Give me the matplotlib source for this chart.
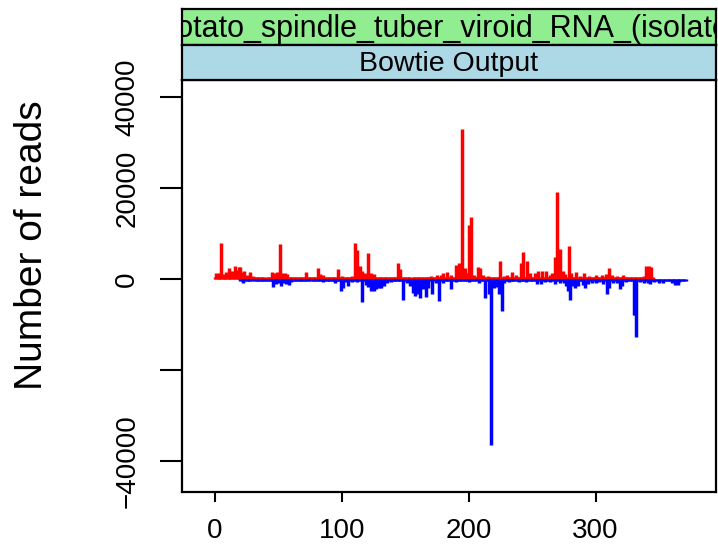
import numpy as np
import matplotlib
matplotlib.use("Agg")
import matplotlib.pyplot as plt

plt.rcParams["font.family"] = ["Liberation Sans", "DejaVu Sans"]

# read counts per genome position (sense = positive, antisense = negative)
sense_pos = [1, 3, 5, 7, 9, 11, 12, 14, 16, 17, 19, 20, 21, 23, 25, 28, 30, 32, 35, 40,
             45, 47, 49, 51, 53, 55, 57, 60, 65, 72, 75, 81, 83, 85, 90, 97, 100, 103, 108,
             110, 112, 114, 116, 118, 121, 123, 125, 130, 135, 140, 144, 146, 150, 155, 160,
             165, 170, 175, 178, 180, 183, 186, 190, 192, 194, 195, 197, 199, 200, 202, 204,
             207, 209, 211, 215, 220, 225, 228, 230, 234, 237, 241, 243, 246, 248, 252, 255,
             258, 261, 264, 266, 268, 270, 272, 274, 276, 279, 281, 285, 288, 291, 295, 300,
             305, 308, 311, 313, 317, 322, 327, 333, 338, 340, 342, 344]
sense_reads = [1400, 1200, 8000, 1100, 1500, 2500, 1800, 1800, 2900, 2000, 2600, 2600, 1500,
               1700, 800, 1600, 600, 500, 400, 300, 1500, 1300, 1600, 7700, 1300, 1300, 1100,
               400, 400, 1600, 500, 2300, 1100, 900, 400, 2100, 700, 500, 600, 7800, 6400,
               2800, 1700, 1200, 5600, 1200, 1000, 500, 400, 500, 3400, 2200, 400, 300, 500,
               400, 700, 900, 900, 1400, 1600, 900, 3100, 3400, 2800, 33000, 2400, 1200,
               11900, 13500, 900, 2600, 2400, 800, 600, 500, 4000, 700, 900, 1600, 900, 3400,
               5900, 3900, 1200, 1300, 1700, 1700, 1700, 900, 1300, 4900, 19200, 6500, 1700,
               1000, 7300, 1300, 1500, 600, 1400, 700, 900, 800, 1100, 2500, 900, 600, 900,
               500, 400, 600, 2900, 2900, 2600]

antisense_pos = [22, 25, 30, 35, 40, 46, 48, 50, 52, 54, 56, 58, 60, 65, 70, 75, 80, 85, 90,
                 95, 99, 101, 103, 105, 108, 112, 116, 119, 121, 123, 125, 127, 129, 131, 133,
                 136, 139, 143, 148, 151, 154, 156, 158, 160, 162, 164, 166, 168, 171, 174,
                 177, 180, 186, 190, 195, 200, 205, 208, 213, 216, 218, 220, 222, 224, 226,
                 228, 232, 236, 240, 245, 250, 254, 257, 260, 264, 268, 272, 275, 277, 278,
                 280, 282, 284, 286, 290, 292, 294, 297, 300, 303, 306, 309, 311, 314, 317,
                 319, 321, 324, 327, 330, 331, 332, 335, 338, 341, 343, 346, 350, 353, 356,
                 360, 363, 365, 366, 370]
antisense_reads = [-950, -400, -300, -500, -400, -1800, -1200, -900, -1500, -1000, -1200,
                   -1400, -600, -400, -400, -300, -500, -600, -400, -800, -2700, -2000, -700,
                   -1500, -600, -700, -5000, -1300, -1700, -2600, -2700, -2200, -2000, -2000,
                   -1600, -900, -600, -500, -4600, -800, -1500, -3100, -3700, -3400, -4200,
                   -2300, -3900, -2000, -3300, -900, -4900, -800, -2100, -600, -500, -600,
                   -500, -800, -4200, -3300, -36500, -2000, -1800, -3300, -7000, -1000, -600,
                   -500, -700, -600, -500, -1100, -1200, -600, -700, -1100, -900, -1000,
                   -1500, -2600, -4600, -1500, -2000, -1600, -1300, -2000, -1200, -900, -900,
                   -700, -1100, -3400, -2000, -900, -1000, -2300, -1500, -600, -500, -7900,
                   -7900, -12800, -700, -1000, -800, -1200, -600, -800, -900, -500, -1000,
                   -1300, -1400, -700, -400]

# low-level coverage spans (first, last position) and their floor count
sense_span, sense_floor = (0, 345), 350
antisense_span, antisense_floor = (20, 371), -350

y_ticks = [-40000, -20000, 0, 20000, 40000]
y_ticklabels = ["\u221240000", "", "0", "20000", "40000"]
x_ticks = [0, 100, 200, 300]
strip_top = "Potato_spindle_tuber_viroid_RNA_(isolate_"
strip_bottom = "Bowtie Output"


def coverage(span, floor, pos, reads):
    x = np.arange(span[0], span[1] + 1)
    y = np.full(x.size, floor, dtype=float)
    y[np.searchsorted(x, pos)] = reads
    return x, y


W, H = 718, 546
fig = plt.figure(figsize=(W / 100, H / 100), dpi=100)
L, R = 182 / W, 716 / W
ax = fig.add_axes([L, 1 - 492 / H, R - L, (492 - 80) / H])

xs, ys = coverage(sense_span, sense_floor, sense_pos, sense_reads)
xa, ya = coverage(antisense_span, antisense_floor, antisense_pos, antisense_reads)
ax.vlines(xs, 0, ys, color="#ff0000", lw=2.5)
ax.vlines(xa, 0, ya, color="#0000ff", lw=2.5)

ax.set_xlim(-26, 395)
ax.set_ylim(-46800, 43700)
ax.set_yticks(y_ticks)
ax.set_yticklabels(y_ticklabels, rotation=90, va="center")
ax.set_xticks(x_ticks)
ax.tick_params(axis="y", length=16, width=1.5, pad=14, labelsize=20)
ax.tick_params(axis="x", length=7.5, width=1.5, pad=11, labelsize=20)
for s in ax.spines.values():
    s.set_linewidth(1.6)
fig.text(32 / W, 1 - 245 / H, "Number of reads", rotation=90, ha="center", va="center",
         fontsize=28)

# lattice-style strips above the panel (top label is wider than the strip, so clipped)
for (top, bot, color, label, cx, fs) in [(9, 45, "#90ee90", strip_top, 0.505, 22),
                                          (45, 80, "#add8e6", strip_bottom, 0.5, 20.5)]:
    sx = fig.add_axes([L, 1 - bot / H, R - L, (bot - top) / H])
    sx.set_facecolor(color)
    sx.set_xticks([]); sx.set_yticks([])
    for s in sx.spines.values():
        s.set_linewidth(1.6)
    sx.text(cx, 0.45, label, transform=sx.transAxes, ha="center", va="center",
            fontsize=fs, clip_on=True)

fig.savefig("out.png", dpi=100)
